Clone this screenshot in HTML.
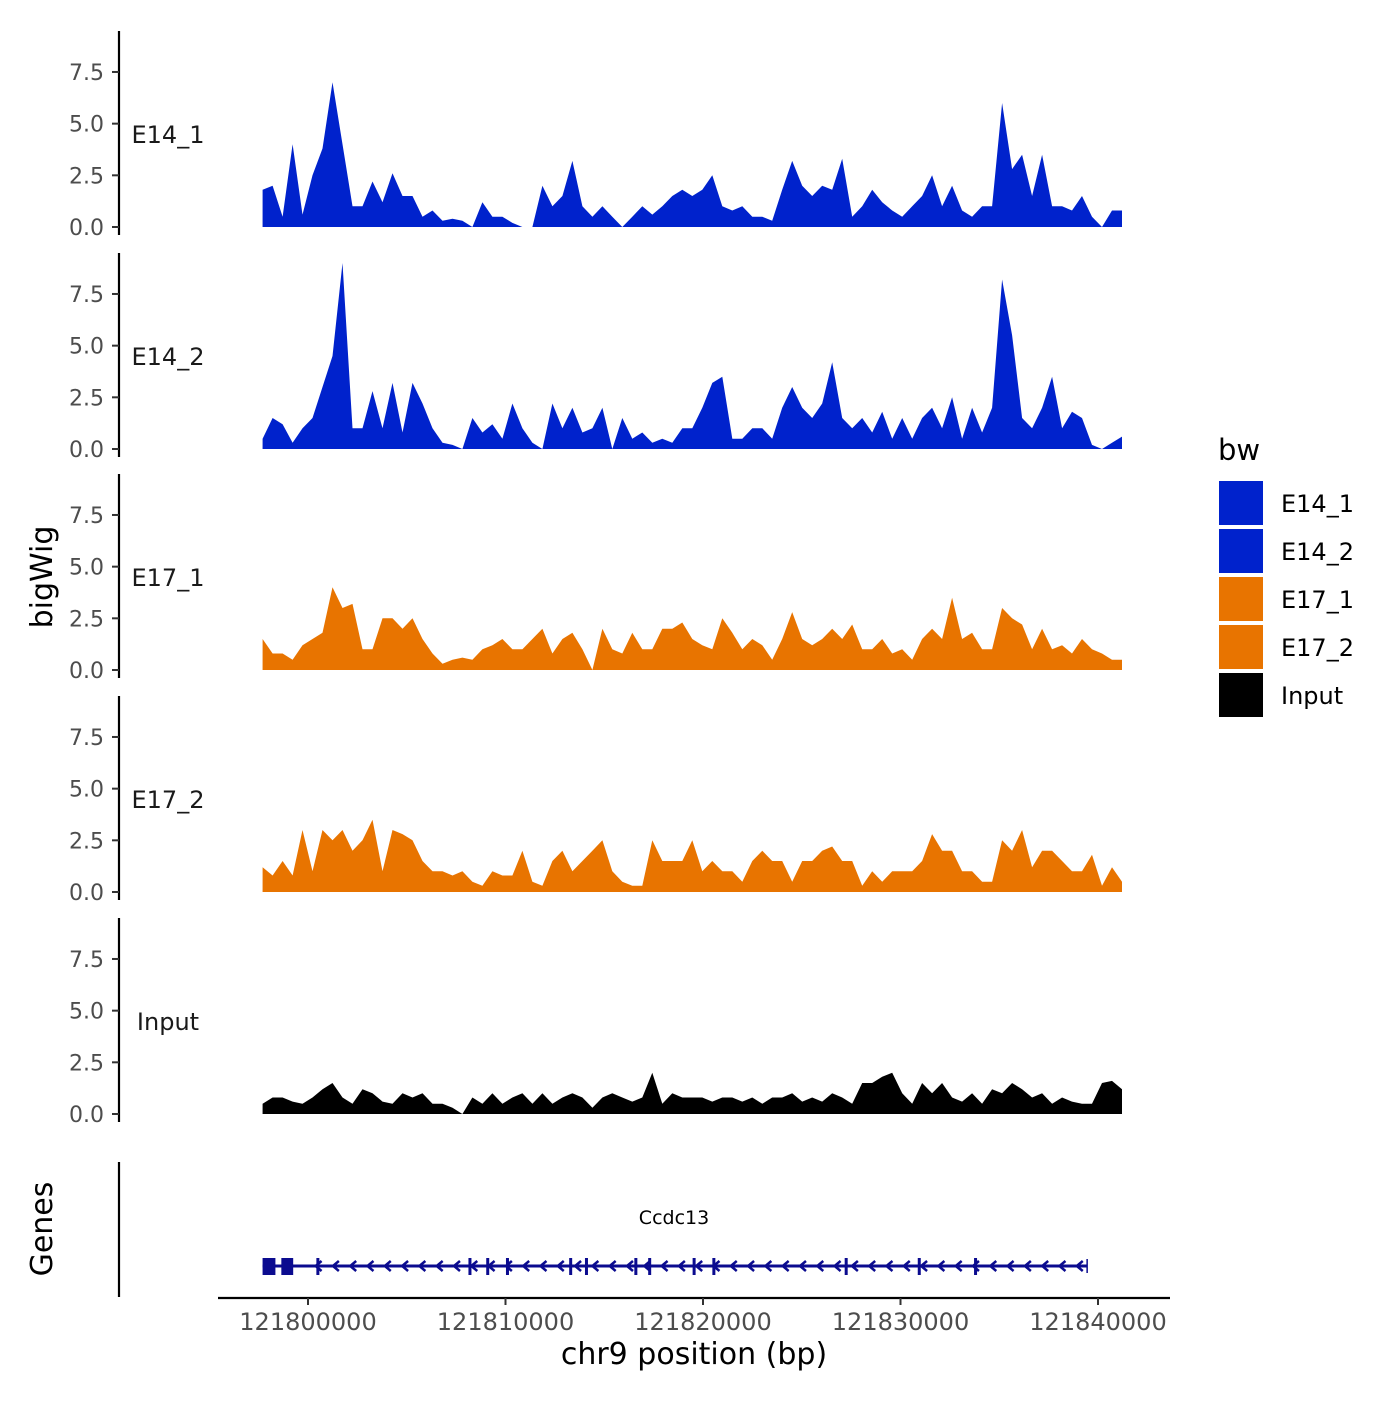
<!DOCTYPE html>
<html><head><meta charset="utf-8"><style>
body{margin:0;background:#fff}
svg text{font-family:"DejaVu Sans","Liberation Sans",sans-serif}
</style></head><body>
<svg id="chart" width="1400" height="1400" xmlns="http://www.w3.org/2000/svg"></svg>
<script>
const trackNames=["E14_1","E14_2","E17_1","E17_2","Input"];
const trackColors=["#0022CC","#0022CC","#E87400","#E87400","#000000"];
const binStart=121797700, binWidth=506;
const e14_1=[1.8,2.0,0.5,4.0,0.6,2.5,3.8,7.0,4.0,1.0,1.0,2.2,1.2,2.6,1.5,1.5,0.5,0.8,0.3,0.4,0.3,0,1.2,0.5,0.5,0.2,0,0,2.0,1.0,1.5,3.2,1.0,0.5,1.0,0.5,0,0.5,1.0,0.6,1.0,1.5,1.8,1.5,1.8,2.5,1.0,0.8,1.0,0.5,0.5,0.3,1.8,3.2,2.0,1.5,2.0,1.8,3.3,0.5,1.0,1.8,1.2,0.8,0.5,1.0,1.5,2.5,1.0,2.0,0.8,0.5,1.0,1.0,6.0,2.8,3.5,1.5,3.5,1.0,1.0,0.8,1.5,0.5,0,0.8,0.8];
const e14_2=[0.5,1.5,1.2,0.3,1.0,1.5,3.0,4.5,9.0,1.0,1.0,2.8,1.0,3.2,0.8,3.2,2.2,1.0,0.3,0.2,0,1.5,0.8,1.2,0.5,2.2,1.0,0.3,0,2.2,1.0,2.0,0.8,1.0,2.0,0,1.5,0.5,0.8,0.3,0.5,0.3,1.0,1.0,2.0,3.2,3.5,0.5,0.5,1.0,1.0,0.5,2.0,3.0,2.0,1.5,2.2,4.2,1.5,1.0,1.5,0.8,1.8,0.5,1.5,0.5,1.5,2.0,1.0,2.5,0.5,2.0,0.8,2.0,8.2,5.5,1.5,1.0,2.0,3.5,1.0,1.8,1.5,0.2,0,0.3,0.6];
const e17_1=[1.5,0.8,0.8,0.5,1.2,1.5,1.8,4.0,3.0,3.2,1.0,1.0,2.5,2.5,2.0,2.5,1.5,0.8,0.3,0.5,0.6,0.5,1.0,1.2,1.5,1.0,1.0,1.5,2.0,0.8,1.5,1.8,1.0,0,2.0,1.0,0.8,1.8,1.0,1.0,2.0,2.0,2.3,1.5,1.2,1.0,2.5,1.8,1.0,1.5,1.2,0.5,1.5,2.8,1.5,1.2,1.5,2.0,1.5,2.2,1.0,1.0,1.5,0.8,1.0,0.5,1.5,2.0,1.5,3.5,1.5,1.8,1.0,1.0,3.0,2.5,2.2,1.0,2.0,1.0,1.2,0.8,1.5,1.0,0.8,0.5,0.5];
const e17_2=[1.2,0.8,1.5,0.8,3.0,1.0,3.0,2.5,3.0,2.0,2.5,3.5,1.0,3.0,2.8,2.5,1.5,1.0,1.0,0.8,1.0,0.5,0.3,1.0,0.8,0.8,2.0,0.5,0.3,1.5,2.0,1.0,1.5,2.0,2.5,1.0,0.5,0.3,0.3,2.5,1.5,1.5,1.5,2.5,1.0,1.5,1.0,1.0,0.5,1.5,2.0,1.5,1.5,0.5,1.5,1.5,2.0,2.2,1.5,1.5,0.3,1.0,0.5,1.0,1.0,1.0,1.5,2.8,2.0,2.0,1.0,1.0,0.5,0.5,2.5,2.0,3.0,1.2,2.0,2.0,1.5,1.0,1.0,1.8,0.3,1.2,0.5];
const input=[0.5,0.8,0.8,0.6,0.5,0.8,1.2,1.5,0.8,0.5,1.2,1.0,0.6,0.5,1.0,0.8,1.0,0.5,0.5,0.3,0,0.8,0.5,1.0,0.5,0.8,1.0,0.5,1.0,0.5,0.8,1.0,0.8,0.3,0.8,1.0,0.8,0.6,0.8,2.0,0.5,1.0,0.8,0.8,0.8,0.6,0.8,0.8,0.6,0.8,0.5,0.8,0.8,1.0,0.6,0.8,0.6,1.0,0.8,0.5,1.5,1.5,1.8,2.0,1.0,0.5,1.5,1.0,1.5,0.8,0.6,1.0,0.5,1.2,1.0,1.5,1.2,0.8,1.0,0.5,0.8,0.6,0.5,0.5,1.5,1.6,1.2];
const yTicks=[0,2.5,5,7.5];
const yTickLabels=["0.0","2.5","5.0","7.5"];
const xTicks=[121800000,121810000,121820000,121830000,121840000];
const geneStart=121797700, geneEnd=121839450;
const bigExons=[[121797700,121798350],[121798650,121799250]];
const smallExons=[121800500,121808200,121809100,121810100,121813300,121814100,121816600,121817300,121819550,121820550,121827250,121830950,121833800];
const allTracks=[e14_1,e14_2,e17_1,e17_2,input];

const svg=document.getElementById('chart');
const NS='http://www.w3.org/2000/svg';
function mk(tag,attrs,parent){const e=document.createElementNS(NS,tag);for(const k in attrs)e.setAttribute(k,attrs[k]);(parent||svg).appendChild(e);return e;}
function xs(bp){return 308+(bp-121800000)*(790/40000);}
const bases=[227,449,670,892,1114];
const pxPerUnit=20.67;
allTracks.forEach((vals,t)=>{
  const base=bases[t];
  const g=mk('g',{});
  
  
  const ys=v=>base-v*pxPerUnit;
  let d='M'+xs(binStart)+','+base;
  vals.forEach((v,i)=>{d+=' L'+xs(binStart+i*binWidth).toFixed(1)+','+ys(v).toFixed(1);});
  d+=' L'+xs(binStart+(vals.length-1)*binWidth).toFixed(1)+','+base+' Z';
  const p=mk('path',{d:d,fill:trackColors[t]},g);
  
  
  const ax=mk('line',{x1:119,x2:119,y1:base-196,y2:base+8,stroke:'#000','stroke-width':2.2},g);
  
  
  yTicks.forEach((v,k)=>{
    mk('line',{x1:112,x2:119,y1:ys(v),y2:ys(v),stroke:'#333','stroke-width':2},g);
    const tx=mk('text',{x:104,y:ys(v)+8,'text-anchor':'end','font-size':22,fill:'#4d4d4d'},g);
    tx.textContent=yTickLabels[k];
    
    
  });
  const lb=mk('text',{x:168,y:base-84,'text-anchor':'middle','font-size':24,fill:'#1a1a1a'},g);
  lb.textContent=trackNames[t];
  
  
});
const gg=mk('g',{});


mk('line',{x1:119,x2:119,y1:1162,y2:1297,stroke:'#000','stroke-width':2.2},gg);
const gc='#0B0B8F';
mk('line',{x1:xs(geneStart),x2:xs(geneEnd),y1:1266,y2:1266,stroke:gc,'stroke-width':3},gg);
for(let x=xs(geneStart)+55;x<xs(geneEnd)-5;x+=17.3){
  mk('polyline',{points:(x+4)+',1261 '+(x-2)+',1266 '+(x+4)+',1271',fill:'none',stroke:gc,'stroke-width':2.5},gg);
}
bigExons.forEach(e=>{mk('rect',{x:xs(e[0]),y:1258,width:xs(e[1])-xs(e[0]),height:17,fill:gc},gg);});
smallExons.forEach(b=>{mk('rect',{x:xs(b)-1.5,y:1258,width:3,height:17,fill:gc},gg);});
mk('line',{x1:xs(geneEnd),x2:xs(geneEnd),y1:1259,y2:1273,stroke:gc,'stroke-width':1.5},gg);
const gl=mk('text',{x:674,y:1224,'text-anchor':'middle','font-size':19,fill:'#000'},gg);
gl.textContent='Ccdc13';


const gt=mk('text',{x:0,y:0,'text-anchor':'middle','font-size':30,fill:'#000',transform:'translate(52,1229) rotate(-90)'});
gt.textContent='Genes';


const yt=mk('text',{x:0,y:0,'text-anchor':'middle','font-size':30,fill:'#000',transform:'translate(52,577) rotate(-90)'});
yt.textContent='bigWig';


const xa=mk('g',{});


mk('line',{x1:218,x2:1170,y1:1298,y2:1298,stroke:'#000','stroke-width':2.2},xa);
xTicks.forEach(v=>{
  mk('line',{x1:xs(v),x2:xs(v),y1:1298,y2:1305,stroke:'#333','stroke-width':2},xa);
  const t=mk('text',{x:xs(v),y:1330,'text-anchor':'middle','font-size':24,fill:'#4d4d4d'},xa);
  t.textContent=String(v);
  
  
});
const xt=mk('text',{x:694,y:1364,'text-anchor':'middle','font-size':30,fill:'#000'});
xt.textContent='chr9 position (bp)';


const lg=mk('g',{});


const lt=mk('text',{x:1218,y:460,'font-size':29,fill:'#000'},lg);
lt.textContent='bw';
trackNames.forEach((n,i)=>{
  const y=481+i*48;
  const r=mk('rect',{x:1219,y:y,width:44,height:44,fill:trackColors[i]},lg);
  
  
  const t=mk('text',{x:1281,y:y+31,'font-size':24,fill:'#000'},lg);
  t.textContent=n;
  
  
});
</script>
</body></html>
